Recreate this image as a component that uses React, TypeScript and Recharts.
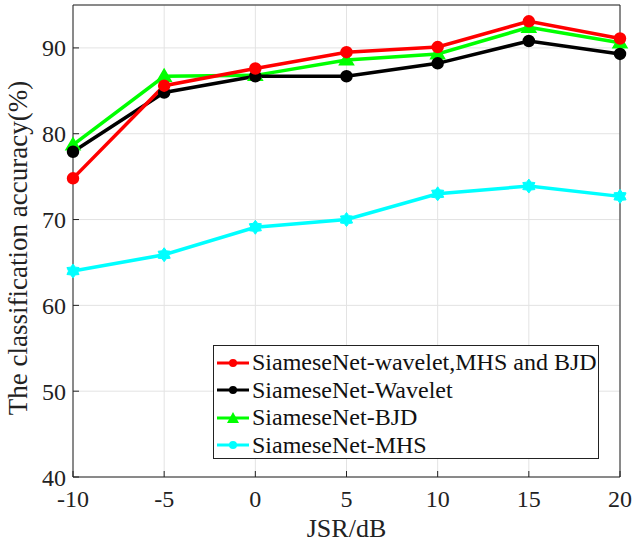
import React from 'react';
import { LineChart, Line, XAxis, YAxis, CartesianGrid, ReferenceLine } from 'recharts';

const jsr = [-10, -5, 0, 5, 10, 15, 20];
const combined = [74.8, 85.6, 87.6, 89.5, 90.1, 93.1, 91.1];
const wavelet = [77.9, 84.8, 86.7, 86.7, 88.2, 90.8, 89.3];
const bjd = [78.7, 86.7, 86.8, 88.6, 89.3, 92.4, 90.6];
const mhs = [64.0, 65.9, 69.1, 70.0, 73.0, 73.9, 72.7];
const xTicks = [-10, -5, 0, 5, 10, 15, 20];
const yTicks = [40, 50, 60, 70, 80, 90];

const seriesNames = [
  'SiameseNet-wavelet,MHS and BJD',
  'SiameseNet-Wavelet',
  'SiameseNet-BJD',
  'SiameseNet-MHS',
];
const colors = ['#ff0000', '#000000', '#00ff00', '#00ffff'];
const shapes = ['circle', 'circle', 'triangle', 'star'];

const data = jsr.map((x, i) => ({ x, s0: combined[i], s1: wavelet[i], s2: bjd[i], s3: mhs[i] }));

const FONT = '"Liberation Serif", "Times New Roman", serif';

function makeDot(color: string, shape: string) {
  return (props: any) => {
    const { cx, cy, index } = props;
    if (cx == null || cy == null) return <g key={index} />;
    if (shape === 'triangle') {
      const r = 7;
      return (
        <polygon key={index}
          points={`${cx},${cy - r} ${cx - r},${cy + r * 0.7} ${cx + r},${cy + r * 0.7}`}
          fill={color} stroke={color} strokeWidth={1.5} />
      );
    }
    if (shape === 'star') {
      const pts: string[] = [];
      for (let k = 0; k < 12; k++) {
        const a = (Math.PI / 6) * k - Math.PI / 2;
        const rr = k % 2 === 0 ? 7 : 4.5;
        pts.push(`${cx + rr * Math.cos(a)},${cy + rr * Math.sin(a)}`);
      }
      return <polygon key={index} points={pts.join(' ')} fill={color} stroke={color} strokeWidth={1} />;
    }
    return <circle key={index} cx={cx} cy={cy} r={5} fill={color} stroke={color} strokeWidth={2.5} />;
  };
}

const LegendBox = () => (
  <div style={{
    position: 'absolute', left: 213, top: 345, width: 386, height: 114,
    border: '1px solid #222', background: '#fff', fontFamily: FONT, fontSize: 24,
    boxSizing: 'border-box', padding: '3px 0 0 3px', lineHeight: '27.5px', color: '#111',
  }}>
    {seriesNames.map((n, i) => (
      <div key={n} style={{ display: 'flex', alignItems: 'center', whiteSpace: 'nowrap', height: 27.5 }}>
        <svg width={32} height={14} style={{ marginRight: 3 }}>
          <line x1={0} y1={7} x2={32} y2={7} stroke={colors[i]} strokeWidth={3} />
          {shapes[i] === 'triangle'
            ? <polygon points="16,1 10,12 22,12" fill={colors[i]} />
            : <circle cx={16} cy={7} r={4} fill={colors[i]} />}
        </svg>
        <span>{n}</span>
      </div>
    ))}
  </div>
);

export default function App() {
  return (
    <div style={{ position: 'absolute', left: 0, top: 0, width: 633, height: 542, background: '#fff' }}>
      <LineChart width={633} height={542} data={data}
        margin={{ top: 5, right: 13, bottom: 0, left: 0 }}>
        <CartesianGrid stroke="#e3e3e3" strokeWidth={1} />
        <XAxis dataKey="x" type="number" domain={[-10, 20]} ticks={xTicks}
          stroke="#222" tickSize={-6} tickMargin={19} height={65}
          tick={{ fill: '#222', fontSize: 24, fontFamily: FONT }}
          label={{ value: 'JSR/dB', position: 'insideBottom', offset: 5, fill: '#222', fontSize: 26, fontFamily: FONT }} />
        <YAxis type="number" domain={[40, 95]} ticks={yTicks} width={73}
          stroke="#222" tickSize={-6} tickMargin={13}
          tick={{ fill: '#222', fontSize: 24, fontFamily: FONT }}
          label={{
            content: () => (
              <text x={27} y={248} transform="rotate(-90 27 248)" textAnchor="middle"
                fill="#222" fontSize={27} fontFamily={FONT}>
                The classification accuracy(%)
              </text>
            ),
          }} />
        <ReferenceLine y={95} stroke="#222" />
        <ReferenceLine x={20} stroke="#222" />
        {['s0', 's1', 's2', 's3'].map((k, i) => (
          <Line key={k} dataKey={k} type="linear" stroke={colors[i]} strokeWidth={3.5}
            dot={makeDot(colors[i], shapes[i])} activeDot={false} isAnimationActive={false} />
        )).reverse()}
      </LineChart>
      <LegendBox />
    </div>
  );
}
